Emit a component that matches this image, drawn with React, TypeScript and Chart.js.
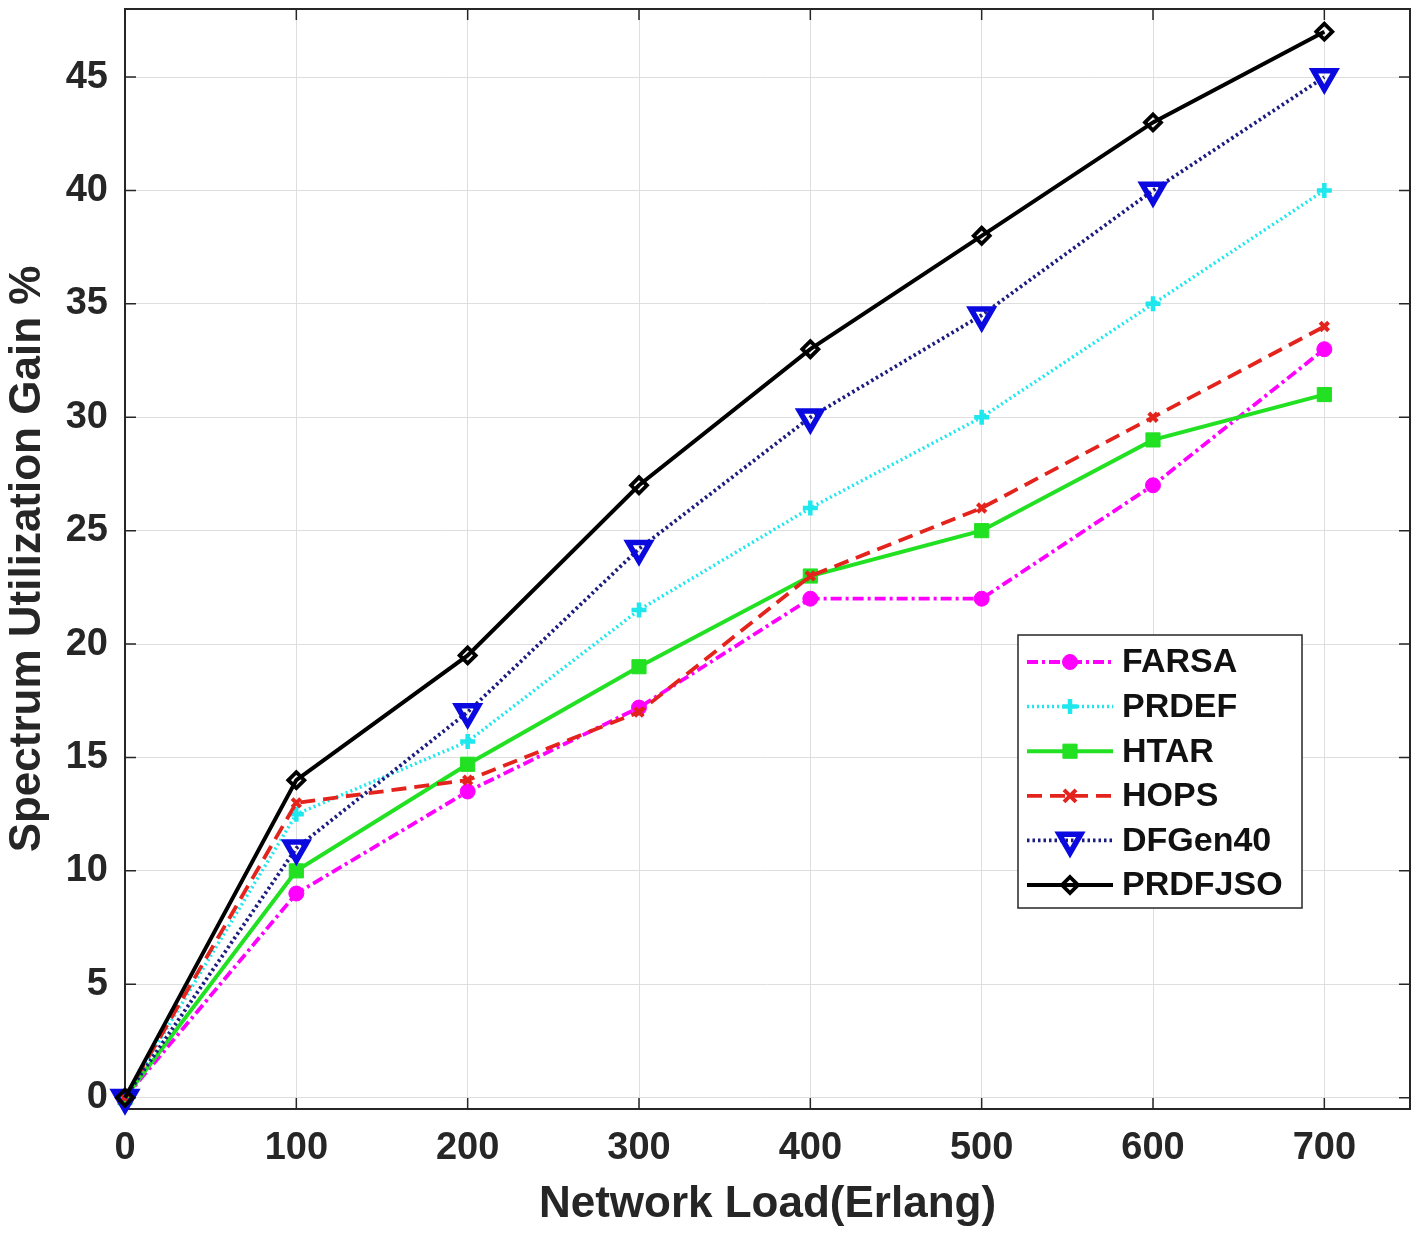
import React, { useEffect, useRef } from 'react';
import { Chart, registerables } from 'chart.js';

Chart.register(...registerables);

// ---------- data ----------
const loads = [0, 100, 200, 300, 400, 500, 600, 700];
const farsa = [0, 9, 13.5, 17.2, 22, 22, 27, 33];
const prdef = [0, 12.5, 15.7, 21.5, 26, 30, 35, 40];
const htar = [0, 10, 14.7, 19, 23, 25, 29, 31];
const hops = [0, 13, 14, 17, 23, 26, 30, 34];
const dfgen40 = [0, 11, 17, 24.2, 30, 34.5, 40, 45];
const prdfjso = [0, 14, 19.5, 27, 33, 38, 43, 47];
const seriesNames = ['FARSA', 'PRDEF', 'HTAR', 'HOPS', 'DFGen40', 'PRDFJSO'];
const xTickValues = [0, 100, 200, 300, 400, 500, 600, 700];
const yTickValues = [0, 5, 10, 15, 20, 25, 30, 35, 40, 45];
const xTitle = 'Network Load(Erlang)';
const yTitle = 'Spectrum Utilization Gain %';

const FONT = "'Liberation Sans', Arial, Helvetica, sans-serif";
const AXIS_COLOR = '#262626';

type Style = {
  color: string;
  markerColor: string;
  dash: number[];
  width: number;
  pointStyle: string;
  radius: number;
  rotation: number;
  fill: string;
  markerWidth: number;
};

const styles: Style[] = [
  { color: '#ff00ff', markerColor: '#ff00ff', dash: [11, 4, 3, 4], width: 3.8, pointStyle: 'circle', radius: 7.5, rotation: 0, fill: '#ff00ff', markerWidth: 1 },
  { color: '#1ee8ee', markerColor: '#1ee8ee', dash: [2, 3], width: 3.5, pointStyle: 'cross', radius: 7.5, rotation: 0, fill: '#1ee8ee', markerWidth: 4.5 },
  { color: '#22e022', markerColor: '#22e022', dash: [], width: 4, pointStyle: 'rect', radius: 10, rotation: 0, fill: '#22e022', markerWidth: 1 },
  { color: '#e4231d', markerColor: '#e4231d', dash: [15, 8], width: 3.8, pointStyle: 'crossRot', radius: 6, rotation: 0, fill: '#e4231d', markerWidth: 4 },
  { color: '#1c1c80', markerColor: '#0a0ae0', dash: [2.5, 3], width: 3.8, pointStyle: 'triangle', radius: 12.5, rotation: 180, fill: 'rgba(0,0,0,0)', markerWidth: 5.5 },
  { color: '#000000', markerColor: '#000000', dash: [], width: 4, pointStyle: 'rectRot', radius: 8, rotation: 0, fill: 'rgba(0,0,0,0)', markerWidth: 3.8 },
];

const seriesValues = [farsa, prdef, htar, hops, dfgen40, prdfjso];

function drawMarker(ctx: CanvasRenderingContext2D, s: Style, x: number, y: number) {
  ctx.save();
  ctx.setLineDash([]);
  ctx.strokeStyle = s.markerColor;
  ctx.fillStyle = s.fill;
  ctx.lineWidth = s.markerWidth;
  const r = s.radius;
  ctx.beginPath();
  if (s.pointStyle === 'circle') {
    ctx.arc(x, y, r, 0, Math.PI * 2);
    ctx.fill();
    ctx.stroke();
  } else if (s.pointStyle === 'cross') {
    ctx.moveTo(x - r, y); ctx.lineTo(x + r, y);
    ctx.moveTo(x, y - r); ctx.lineTo(x, y + r);
    ctx.stroke();
  } else if (s.pointStyle === 'crossRot') {
    ctx.moveTo(x - r, y - r); ctx.lineTo(x + r, y + r);
    ctx.moveTo(x - r, y + r); ctx.lineTo(x + r, y - r);
    ctx.stroke();
  } else if (s.pointStyle === 'rect') {
    const h = r * Math.SQRT1_2;
    ctx.rect(x - h, y - h, 2 * h, 2 * h);
    ctx.fill();
    ctx.stroke();
  } else if (s.pointStyle === 'rectRot') {
    ctx.moveTo(x, y - r); ctx.lineTo(x + r, y); ctx.lineTo(x, y + r); ctx.lineTo(x - r, y); ctx.closePath();
    ctx.fill();
    ctx.stroke();
  } else if (s.pointStyle === 'triangle') {
    const a = Math.PI / 2;
    ctx.moveTo(x + Math.cos(a) * r, y + Math.sin(a) * r);
    ctx.lineTo(x + Math.cos(a + 2 * Math.PI / 3) * r, y + Math.sin(a + 2 * Math.PI / 3) * r);
    ctx.lineTo(x + Math.cos(a + 4 * Math.PI / 3) * r, y + Math.sin(a + 4 * Math.PI / 3) * r);
    ctx.closePath();
    ctx.fill();
    ctx.stroke();
  }
  ctx.restore();
}

const framePlugin = {
  id: 'matlabFrame',
  beforeDatasetsDraw(chart: any) {
    const { ctx, chartArea: a, scales } = chart;
    ctx.save();
    ctx.strokeStyle = AXIS_COLOR;
    ctx.lineWidth = 2;
    ctx.strokeRect(a.left, a.top, a.right - a.left, a.bottom - a.top);
    ctx.lineWidth = 1.5;
    const tl = 11;
    ctx.beginPath();
    for (const v of xTickValues) {
      const px = scales.x.getPixelForValue(v);
      ctx.moveTo(px, a.bottom); ctx.lineTo(px, a.bottom - tl);
      ctx.moveTo(px, a.top); ctx.lineTo(px, a.top + tl);
    }
    for (const v of yTickValues) {
      const py = scales.y.getPixelForValue(v);
      ctx.moveTo(a.left, py); ctx.lineTo(a.left + tl, py);
      ctx.moveTo(a.right, py); ctx.lineTo(a.right - tl, py);
    }
    ctx.stroke();
    ctx.restore();
  },
};

const legendPlugin = {
  id: 'insideLegend',
  afterDatasetsDraw(chart: any) {
    const { ctx } = chart;
    const left = 1018, top = 635, w = 284, h = 273;
    ctx.save();
    ctx.fillStyle = '#ffffff';
    ctx.fillRect(left, top, w, h);
    ctx.strokeStyle = AXIS_COLOR;
    ctx.lineWidth = 1.5;
    ctx.strokeRect(left, top, w, h);
    ctx.font = `bold 34px ${FONT}`;
    ctx.textBaseline = 'middle';
    ctx.textAlign = 'left';
    seriesNames.forEach((name, i) => {
      const s = styles[i];
      const y = 662 + i * 44.6;
      ctx.save();
      ctx.strokeStyle = s.color;
      ctx.lineWidth = s.width;
      ctx.setLineDash(s.dash);
      ctx.beginPath();
      ctx.moveTo(1027, y);
      ctx.lineTo(1113, y);
      ctx.stroke();
      ctx.restore();
      drawMarker(ctx, s, 1070, y);
      ctx.fillStyle = '#111111';
      ctx.fillText(name, 1122, y + 1);
    });
    ctx.restore();
  },
};

export default function App() {
  const canvasRef = useRef<HTMLCanvasElement | null>(null);

  useEffect(() => {
    if (!canvasRef.current) return;
    const n = seriesNames.length;
    const datasets = seriesNames.map((name, i) => {
      const s = styles[i];
      return {
        label: name,
        data: loads.map((x, j) => ({ x, y: seriesValues[i][j] })),
        borderColor: s.color,
        backgroundColor: s.fill,
        borderWidth: s.width,
        borderDash: s.dash,
        pointStyle: s.pointStyle,
        pointRadius: s.radius,
        pointRotation: s.rotation,
        pointBorderColor: s.markerColor,
        pointBackgroundColor: s.fill,
        pointBorderWidth: s.markerWidth,
        fill: false,
        tension: 0,
        clip: false as any,
        order: n - i,
      };
    });

    const chart = new Chart(canvasRef.current, {
      type: 'line',
      data: { datasets: datasets as any },
      options: {
        animation: false,
        responsive: false,
        maintainAspectRatio: false,
        devicePixelRatio: 1,
        layout: { autoPadding: false, padding: { top: 9, right: 12, left: 0, bottom: 0 } },
        plugins: { legend: { display: false }, tooltip: { enabled: false } },
        scales: {
          x: {
            type: 'linear',
            min: 0,
            max: 750,
            afterBuildTicks: (scale: any) => {
              scale.ticks = xTickValues.map((v) => ({ value: v }));
            },
            afterFit: (scale: any) => {
              scale.height = 127;
              scale.paddingLeft = 0;
              scale.paddingRight = 0;
              scale.paddingTop = 0;
              scale.paddingBottom = 0;
            },
            grid: { color: '#dedede', lineWidth: 1, drawTicks: false },
            border: { display: false },
            ticks: {
              padding: 17,
              color: AXIS_COLOR,
              font: { family: FONT, size: 38, weight: 'bold' },
              maxRotation: 0,
              autoSkip: false,
            },
            title: {
              display: true,
              text: xTitle,
              color: AXIS_COLOR,
              font: { family: FONT, size: 44, weight: 'bold' },
              padding: { top: 0, bottom: 5 },
            },
          },
          y: {
            type: 'linear',
            min: -0.5,
            max: 48,
            afterBuildTicks: (scale: any) => {
              scale.ticks = yTickValues.map((v) => ({ value: v }));
            },
            afterFit: (scale: any) => {
              scale.width = 125;
              scale.paddingLeft = 0;
              scale.paddingRight = 0;
              scale.paddingTop = 0;
              scale.paddingBottom = 0;
            },
            grid: { color: '#dedede', lineWidth: 1, drawTicks: false },
            border: { display: false },
            ticks: {
              padding: 17,
              color: AXIS_COLOR,
              font: { family: FONT, size: 38, weight: 'bold' },
              autoSkip: false,
            },
            title: {
              display: true,
              text: yTitle,
              color: AXIS_COLOR,
              font: { family: FONT, size: 44, weight: 'bold' },
              padding: { top: 1, bottom: 0 },
            },
          },
        },
      },
      plugins: [framePlugin, legendPlugin],
    });
    return () => chart.destroy();
  }, []);

  return (
    <div style={{ position: 'fixed', left: 0, top: 0, width: 1422, height: 1236, background: '#ffffff' }}>
      <canvas ref={canvasRef} width={1422} height={1236} style={{ display: 'block', width: 1422, height: 1236 }} />
    </div>
  );
}
